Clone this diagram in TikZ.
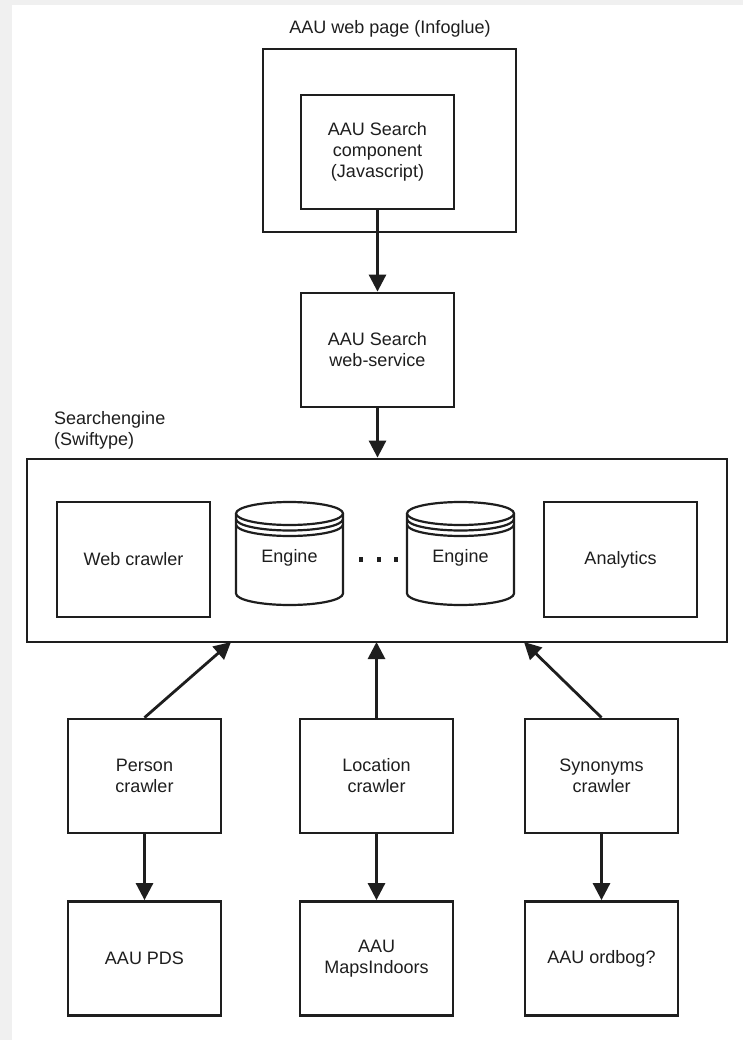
\documentclass[tikz,border=0pt]{standalone}
\usepackage{fontspec}
\setmainfont{Liberation Sans}
\usetikzlibrary{arrows.meta}
\definecolor{ink}{HTML}{1E1E1E}
\definecolor{pagegray}{HTML}{F0F0F0}
\tikzset{
  box/.style={draw=ink, line width=2.8pt, fill=white, minimum width=153pt, minimum height=114pt, align=center, inner sep=0pt, text=ink, font=\fontsize{18}{21}\selectfont},
  lbl/.style={align=center, inner sep=0pt, text=ink, font=\fontsize{18}{21}\selectfont},
  conn/.style={draw=ink, line width=2.8pt, -{Triangle[length=17pt,width=17pt]}},
  cyl/.style={draw=ink, line width=2.2pt, fill=white}
}
\begin{document}
\begin{tikzpicture}[x=1pt,y=-1pt]
\fill[pagegray] (0,0) rectangle (743,1040);
\fill[white] (12,5) rectangle (743,1040);
\useasboundingbox (0,0) rectangle (743,1040);

% top
\node[lbl] (ttl) at (390,29) {AAU web page (Infoglue)};
\node[box, minimum width=253pt, minimum height=183pt] (page) at (389.5,140.5) {};
\node[box] (comp) at (377.5,152) {AAU Search\\component\\(Javascript)};
\node[box] (ws) at (377.5,350) {AAU Search\\web-service};

% search engine
\node[lbl, align=left, anchor=west] (setitle) at (54,430) {Searchengine\\(Swiftype)};
\node[box, minimum width=700pt, minimum height=183pt] (big) at (377,550.5) {};
\node[box, minimum height=115pt] (wc) at (133.5,559.5) {Web crawler};
\node[box, minimum height=115pt] (an) at (620.5,559.5) {Analytics};

\foreach \cx/\nm in {289.5/engA, 460.5/engB}{
  \draw[cyl] (\cx-53.5,513.5) -- (\cx-53.5,593.5)
     arc[start angle=180, end angle=360, x radius=53.5pt, y radius=11.5pt]
     -- (\cx+53.5,513.5);
  \draw[cyl] (\cx,513.5) ellipse [x radius=53.5pt, y radius=11.5pt];
  \draw[ink, line width=2.2pt] (\cx-53.5,519) arc[start angle=180, end angle=360, x radius=53.5pt, y radius=11.5pt];
  \draw[ink, line width=2.2pt] (\cx-53.5,524.5) arc[start angle=180, end angle=360, x radius=53.5pt, y radius=11.5pt];
  \node[lbl] (\nm) at (\cx,558) {Engine};
}
\foreach \dx in {361,379,396}{
  \fill[ink] (\dx-2.3,557) rectangle (\dx+2.3,561.6);
}

% crawlers
\node[box] (pc) at (144.5,776) {Person\\crawler};
\node[box] (lc) at (376.5,776) {Location\\crawler};
\node[box] (sc) at (601.5,776) {Synonyms\\crawler};
\node[box] (pds) at (144.5,958.5) {AAU PDS};
\node[box] (maps) at (376.5,958.5) {AAU\\MapsIndoors};
\node[box] (ord) at (601.5,958.5) {AAU ordbog?};

\coordinate (bp) at (231,642);
\coordinate (bl) at (376.5,642);
\coordinate (bs) at (524,642);

% connectors
\draw[conn] (comp.south) -- (ws.north);
\draw[conn] (ws.south) -- (big.north -| ws.south);
\draw[conn] (pc.north) -- (bp);
\draw[conn] (lc.north) -- (bl);
\draw[conn] (sc.north) -- (bs);
\draw[conn] (pc.south) -- (pds.north);
\draw[conn] (lc.south) -- (maps.north);
\draw[conn] (sc.south) -- (ord.north);
\end{tikzpicture}
\end{document}
